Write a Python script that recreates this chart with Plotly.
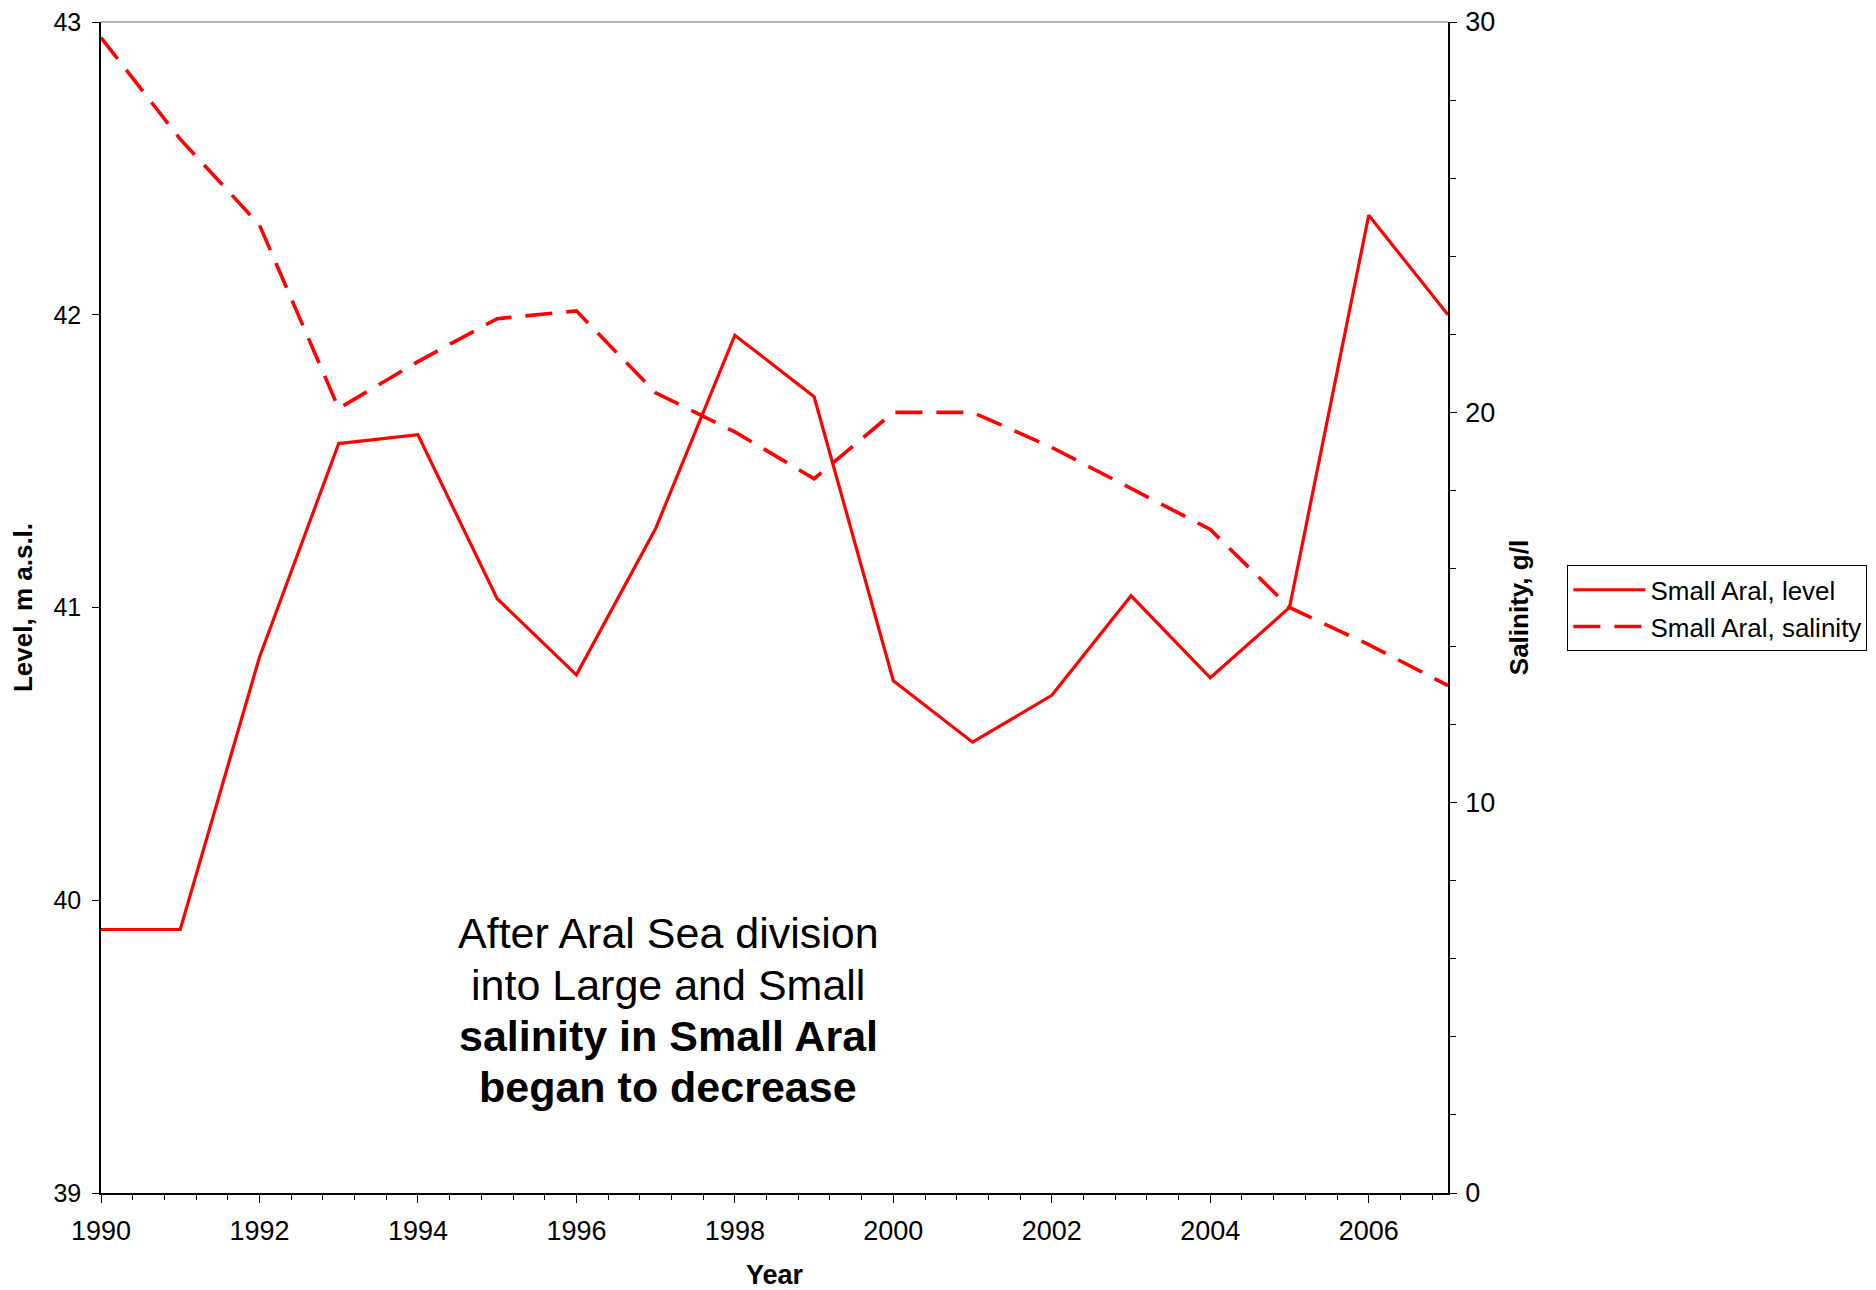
import plotly.graph_objects as go

years = list(range(1990, 2008))
level = [39.90, 39.90, 40.83, 41.56, 41.59, 41.03, 40.77, 41.27, 41.93, 41.72,
         40.75, 40.54, 40.70, 41.04, 40.76, 41.00, 42.34, 42.00]
salinity = [29.6, 27.0, 24.8, 20.1, 21.3, 22.4, 22.6, 20.5, 19.5, 18.3,
            20.0, 20.0, 19.1, 18.05, 17.0, 15.0, 14.05, 13.0]

x_ticks = list(range(1990, 2008, 2))
y_ticks = [39, 40, 41, 42, 43]
y2_ticks = [0, 10, 20, 30]

note_lines = ["After Aral Sea division", "into Large and Small",
              "<b>salinity in Small Aral</b>", "<b>began to decrease</b>"]

FONT = "Liberation Sans, Arial, sans-serif"

# page body has an 8px margin; figure is sized so it ends at the window edge
W, H = 1868, 1282
L, R, T, B = 92.5, 428.4, 13.5, 97.2

fig = go.Figure()
fig.add_trace(go.Scatter(x=years, y=level, mode="lines", name="Small Aral, level",
                         line=dict(color="#FF0000", width=3.2)))
fig.add_trace(go.Scatter(x=years, y=salinity, mode="lines", name="Small Aral, salinity",
                         yaxis="y2", line=dict(color="#FF0000", width=3.6, dash="27px,14px")))

fig.update_layout(
    width=W, height=H,
    margin=dict(l=L, r=R, t=T, b=B, autoexpand=False),
    paper_bgcolor="white", plot_bgcolor="white",
    font=dict(family=FONT, size=24, color="black"),
    showlegend=True,
    legend=dict(x=(1567 - 100.5) / 1347.1, y=(1192.8 - 565) / 1171.3, xanchor="left", yanchor="top",
                bordercolor="black", borderwidth=1, bgcolor="white",
                font=dict(size=26), itemwidth=72, tracegroupgap=0),
    xaxis=dict(range=[1990, 2007], tickvals=x_ticks, ticktext=[str(v) for v in x_ticks],
               automargin=False, tickfont=dict(size=27), ticklabeloverflow="allow",
               showgrid=False, zeroline=False, showline=True, linecolor="black", linewidth=1.5,
               ticks="outside", ticklen=8, tickcolor="black", tickwidth=1.2, ticklabelstandoff=5,
               minor=dict(tick0=1990, dtick=0.4, ticks="outside", ticklen=5, tickcolor="black", tickwidth=1),
               title=dict(text="<b>Year</b>", standoff=22, font=dict(size=27))),
    yaxis=dict(range=[39, 43], tickvals=y_ticks, showgrid=False, zeroline=False,
               automargin=False, tickfont=dict(size=25), ticklabeloverflow="allow",
               showline=True, linecolor="black", linewidth=1.5, ticklabelstandoff=6,
               ticks="outside", ticklen=7, tickcolor="black",
               title=dict(text="<b>Level, m a.s.l.</b>", standoff=14, font=dict(size=26))),
    yaxis2=dict(range=[0, 30], tickvals=y2_ticks, overlaying="y", side="right",
                automargin=False, tickfont=dict(size=27), ticklabeloverflow="allow",
                showgrid=False, zeroline=False, showline=True, linecolor="black", linewidth=1.5,
                ticks="outside", ticklen=7, tickcolor="black", ticklabelstandoff=3,
                minor=dict(tick0=0, dtick=2, ticks="outside", ticklen=6, tickcolor="black"),
                title=dict(text="<b>Salinity, g/l</b>", standoff=16, font=dict(size=26))),
    yaxis3=dict(range=[0, 30], tickvals=y2_ticks, overlaying="y", side="right",
                automargin=False, showticklabels=False, showgrid=False, zeroline=False,
                showline=False, ticks="inside", ticklen=7, tickcolor="black"),
)

fig.add_shape(type="line", xref="paper", yref="paper", x0=0, x1=1, y0=1, y1=1,
              line=dict(color="#999999", width=1.5))

line_y_full = [933, 985, 1036, 1087]
for txt, yf in zip(note_lines, line_y_full):
    fig.add_annotation(xref="paper", yref="paper",
                       x=(667.6 - 100.5) / 1347.1, y=(1192.8 - yf) / 1171.3,
                       xanchor="center", yanchor="middle", showarrow=False,
                       font=dict(size=43, family=FONT), text=txt)

fig.write_html("out.html")
